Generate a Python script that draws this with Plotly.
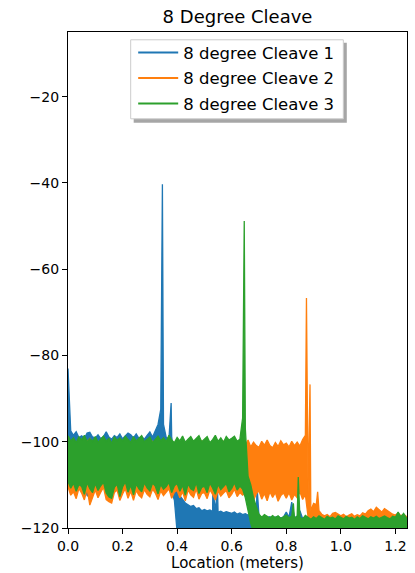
import plotly.graph_objects as go

# Sampling grid (meters)
location = [round(0.01 * i, 2) for i in range(125)]

# ---- 8 degree Cleave 1 (upper / lower envelope of the noisy trace) ----
c1_hi = [
    -83, -97.5, -98.5, -97.7, -99, -98.6, -99.2, -98, -97.8, -98.9,
    -99.1, -98.4, -99.3, -98.8, -97.7, -98.9, -99.4, -98.6, -99, -98.2,
    -99.3, -98.7, -98, -98.4, -99.1, -98.2, -99.2, -98.8, -99.4, -98.5,
    -97.7, -98.9, -97.5, -96, -92.5, -96, -99, -99.3, -98.8, -104,
    -109, -112.5, -113.5, -114.2, -114.6, -115, -114.8, -115.5, -115.3, -116,
    -115.7, -116, -115.8, -116.2, -116, -116.3, -116.1, -116.5, -116.2, -116.4,
    -116.6, -116.3, -116.8, -116.5, -116.9, -116.7, -117, -116.8, -117.2, -117,
    -117.3, -117.5, -117.2, -117.6, -117.4, -117.8, -117.5, -117.3, -117.7, -117.4,
    -116.3, -117.5, -114, -117.6, -117.3, -116, -117.8, -117.4, -117.6, -117.9,
    -117.5, -117.8, -118, -117.6, -117.9, -118.1, -117.7, -118, -118.2, -117.8,
    -118, -118.2, -117.9, -118.3, -118, -118.1, -118.4, -118, -118.2, -118.3,
    -118.1, -118.4, -118.2, -118, -118.3, -118.5, -118.1, -118.3, -118.4, -118.2,
    -118.3, -118.1, -118.4, -118.2, -118.3,
]
c1_lo = [
    -104, -108, -109.5, -110.2, -109, -110.5, -109.8, -112.5, -112.8, -110,
    -109.5, -110.8, -109.7, -110.3, -110.9, -109.6, -110.4, -111, -109.8, -110.6,
    -110.2, -109.6, -110.8, -110.1, -109.5, -110.7, -110, -109.7, -110.5, -110.2,
    -109.8, -110.6, -110, -109.4, -110.3, -109.6, -110.1, -110.7, -111.5, -113.6,
    -121, -121, -121, -121, -121, -121, -121, -121, -121, -121,
    -121, -121, -121, -121, -121, -121, -121, -121, -121, -121,
    -121, -121, -121, -121, -121, -121, -121, -121, -121, -121,
    -121, -121, -121, -121, -121, -121, -121, -121, -121, -121,
    -121, -121, -121, -121, -121, -121, -121, -121, -121, -121,
    -121, -121, -121, -121, -121, -121, -121, -121, -121, -121,
    -121, -121, -121, -121, -121, -121, -121, -121, -121, -121,
    -121, -121, -121, -121, -121, -121, -121, -121, -121, -121,
    -121, -121, -121, -121, -121,
]
c1_peak_loc = [0.346, 0.378, 0.531, 0.548, 0.693]
c1_peak_val = [-40.3, -91.0, -110.5, -110.8, -110.5]

# ---- 8 degree Cleave 2 ----
c2_hi = [
    -100.5, -100, -99.8, -100.6, -100.2, -99.9, -100.7, -100.1, -99.3, -100.4,
    -100.1, -100.6, -99.9, -100.3, -100.8, -100, -100.5, -99.7, -100.2, -100.6,
    -100.3, -99.8, -100.5, -100.1, -100.7, -99.9, -100.4, -100.2, -100.8, -100,
    -100.5, -99.9, -100.3, -100.7, -100.1, -100.6, -99.8, -100.4, -100.2, -100.7,
    -100, -100.5, -100.2, -100.8, -99.9, -100.4, -100.1, -100.6, -100.3, -99.8,
    -100.4, -100.1, -100.7, -100, -100.5, -100.2, -100.8, -99.9, -100.3, -100.6,
    -100.3, -99.9, -100.6, -100.2, -100, -100.8, -99.6, -101.2, -100.1, -100.9,
    -101.3, -99.9, -100.8, -99.6, -100.9, -101.4, -100.2, -101.1, -99.8, -100.7,
    -100.3, -101.2, -99.9, -100.9, -100.1, -101, -99.5, -98.5, -112, -116,
    -114.3, -114.6, -116, -116.8, -117.2, -116.9, -117.4, -116.6, -116.4, -116.9,
    -117.2, -116.8, -117.4, -117, -116.7, -117.3, -116.9, -117.2, -116.5, -116.8,
    -116, -115.6, -116.2, -115.2, -115.8, -116.3, -115.5, -116, -116.4, -116.8,
    -117, -116.5, -117.2, -116.8, -117.3,
]
c2_lo = [
    -110.5, -112.4, -111.6, -113.2, -110.8, -111.9, -113.5, -110.9, -114.7, -112.8,
    -111.2, -113, -111.7, -110.6, -113.4, -113.9, -114.2, -111.8, -111.2, -113.6,
    -112.1, -110.9, -113.1, -111.5, -113.6, -111.3, -112.4, -113, -111.1, -112.2,
    -112.8, -111, -111.9, -113.4, -111.4, -112.5, -111.8, -110.9, -113.1, -111.7,
    -111.3, -113, -111.6, -113.7, -111.2, -112.3, -112.9, -111, -113.3, -112,
    -111.8, -113.2, -111.1, -112.2, -113.5, -111.4, -112.6, -111.9, -111.3, -113,
    -112.2, -111, -112.7, -111.8, -112.4, -111.9, -113.2, -111.5, -113.6, -112.1,
    -111.4, -113.3, -112, -113.7, -111.6, -112.9, -111.8, -113.8, -112.5, -111.9,
    -113.1, -111.8, -113.5, -112.2, -113, -111.6, -113.4, -112.3, -117.5, -118.5,
    -118, -118.3, -119, -119.5, -120, -120.5, -121, -121, -121, -121,
    -121, -121, -121, -121, -121, -121, -121, -121, -121, -121,
    -121, -121, -121, -121, -121, -121, -121, -121, -121, -121,
    -121, -121, -121, -121, -121,
]
c2_peak_loc = [0.874, 0.887, 0.915]
c2_peak_val = [-66.7, -86.7, -111.6]

# ---- 8 degree Cleave 3 ----
c3_hi = [
    -98.6, -99.8, -99.1, -100.2, -98.9, -99.6, -98.5, -100, -99.3, -99.9,
    -98.8, -100.1, -99.4, -98.7, -99.9, -99.2, -100.3, -98.9, -99.7, -99.1,
    -99.8, -98.7, -99.5, -100.1, -98.8, -99.9, -99.2, -98.6, -100, -99.4,
    -98.9, -100.2, -99.3, -98.7, -99.8, -99.1, -100, -98.5, -99.6, -100.2,
    -99, -99.8, -98.7, -100.1, -99.4, -98.8, -99.9, -99.2, -98.6, -100,
    -99.3, -98.8, -100.2, -99.5, -98.5, -99.9, -99.1, -100.1, -98.8, -99.6,
    -99.2, -98.7, -99.9, -99.4, -94.5, -97, -108, -110, -113, -115,
    -116.8, -117.5, -116.9, -117.3, -117.7, -117.1, -117.6, -117.2, -117.8, -117.4,
    -117, -117.6, -117.3, -117.8, -117.2, -117.5, -117.9, -117.1, -117.6, -118,
    -117.4, -117.8, -117.2, -117.6, -118, -117.3, -117.7, -117.5, -117.9, -117.2,
    -117.6, -117.9, -117.3, -117.7, -117.5, -118, -117.4, -117.8, -117.2, -117.6,
    -117.9, -117.4, -117.7, -117.3, -117.8, -117.5, -117.2, -117.6, -117.9, -117.3,
    -117.5, -116.3, -117.4, -116.6, -117.6,
]
c3_lo = [
    -109.2, -110.8, -109.6, -111.5, -109.9, -110.4, -112.2, -109.5, -110.9, -111.8,
    -109.7, -111.3, -110.2, -109.4, -111.9, -112.8, -113.1, -110.6, -109.8, -112.7,
    -110.5, -109.3, -111.7, -110.1, -112.3, -109.8, -110.9, -111.6, -109.5, -110.7,
    -111.4, -109.6, -110.3, -112.1, -109.9, -111, -110.4, -109.4, -111.8, -110.2,
    -109.7, -111.5, -110.1, -112.4, -109.8, -110.9, -111.3, -109.5, -112, -110.6,
    -110.3, -111.8, -109.6, -110.7, -112.2, -109.9, -111.1, -110.4, -109.7, -111.6,
    -110.8, -109.5, -111.2, -110.3, -111, -113, -116, -119, -121, -121,
    -121, -121, -121, -121, -121, -121, -121, -121, -121, -121,
    -121, -121, -121, -121, -121, -121, -121, -121, -121, -121,
    -121, -121, -121, -121, -121, -121, -121, -121, -121, -121,
    -121, -121, -121, -121, -121, -121, -121, -121, -121, -121,
    -121, -121, -121, -121, -121, -121, -121, -121, -121, -121,
    -121, -121, -121, -121, -121,
]
c3_peak_loc = [0.646, 0.826, 0.844]
c3_peak_val = [-48.8, -114.3, -108.2]

names = ["8 degree Cleave 1", "8 degree Cleave 2", "8 degree Cleave 3"]
colors = ["#1f77b4", "#ff7f0e", "#2ca02c"]

x_ticks = [0.0, 0.2, 0.4, 0.6, 0.8, 1.0, 1.2]
x_tick_labels = ["0.0", "0.2", "0.4", "0.6", "0.8", "1.0", "1.2"]
y_ticks = [-120, -100, -80, -60, -40, -20]
y_tick_labels = ["\u2212120", "\u2212100", "\u221280", "\u221260", "\u221240", "\u221220"]

for arr in (c1_hi, c1_lo, c2_hi, c2_lo, c3_hi, c3_lo):
    assert len(arr) == len(location), len(arr)


def band_outline(hi, lo, pk_loc, pk_val):
    """Closed outline of the noisy trace: upper envelope (with the peaks),
    then the lower envelope back to the start."""
    top = sorted(list(zip(location, hi)) + list(zip(pk_loc, pk_val)),
                 key=lambda p: p[0])
    bottom = list(zip(location, lo))[::-1]
    pts = top + bottom
    return [p[0] for p in pts], [p[1] for p in pts]


series = [
    (c1_hi, c1_lo, c1_peak_loc, c1_peak_val),
    (c2_hi, c2_lo, c2_peak_loc, c2_peak_val),
    (c3_hi, c3_lo, c3_peak_loc, c3_peak_val),
]

fig = go.Figure()
for (hi, lo, pl, pv), name, col in zip(series, names, colors):
    xs, ys = band_outline(hi, lo, pl, pv)
    fig.add_trace(go.Scatter(
        x=xs, y=ys, mode="lines", name=name, legendgroup=name,
        fill="toself", fillcolor=col, showlegend=False,
        line=dict(color=col, width=1.3),
    ))
    # legend entry (line sample)
    fig.add_trace(go.Scatter(
        x=[None], y=[None], mode="lines", name=name, legendgroup=name,
        line=dict(color=col, width=2), showlegend=True,
    ))

# plot area in pixels: left 67.7, right 407.3, top 31.7, bottom 527.7
L, R, T, B = 67.7, 407.3, 31.7, 527.7


def px_x(p):
    return (p - L) / (R - L)


def px_y(p):
    return (B - p) / (B - T)


# legend frame + shadow (matplotlib style)
fig.add_shape(type="rect", xref="paper", yref="paper", layer="above",
              x0=px_x(133.5), x1=px_x(347), y0=px_y(122.5), y1=px_y(42.5),
              fillcolor="rgba(0,0,0,0.35)", line=dict(width=0))
fig.add_shape(type="rect", xref="paper", yref="paper", layer="above",
              x0=px_x(130.5), x1=px_x(343.5), y0=px_y(118.5), y1=px_y(39.5),
              fillcolor="white", line=dict(color="#cccccc", width=1))

font_family = "DejaVu Sans"
fig.update_layout(
    width=415, height=573,
    margin=dict(l=L, r=415 - R, t=T, b=573 - B, autoexpand=False),
    paper_bgcolor="white", plot_bgcolor="white",
    font=dict(family=font_family, color="black", size=14),
    title=dict(text="8 Degree Cleave", x=(L + R) / 2 / 415, xanchor="center",
               y=1 - 17 / 573, yanchor="middle", yref="container",
               font=dict(size=18, family=font_family, color="black")),
    showlegend=True,
    legend=dict(x=px_x(133), y=px_y(35), xanchor="left", yanchor="top",
                bgcolor="rgba(0,0,0,0)", borderwidth=0,
                font=dict(size=16.5, family=font_family, color="black"),
                tracegroupgap=1, itemwidth=40),
    xaxis=dict(range=[0, 1.2425], tickvals=x_ticks, ticktext=x_tick_labels,
               ticks="outside", ticklen=5, tickwidth=1.1, tickcolor="black",
               showline=True, linecolor="black", linewidth=1.1, mirror=True,
               showgrid=False, zeroline=False,
               tickfont=dict(size=14, family=font_family),
               title=dict(text="Location (meters)", standoff=4,
                          font=dict(size=15, family=font_family))),
    yaxis=dict(range=[-120, -5], tickvals=y_ticks, ticktext=y_tick_labels,
               ticks="outside", ticklen=5, tickwidth=1.1, tickcolor="black",
               showline=True, linecolor="black", linewidth=1.1, mirror=True,
               showgrid=False, zeroline=False,
               tickfont=dict(size=14, family=font_family)),
)

fig.write_html("out.html",
               config={"displayModeBar": False},
               post_script="document.body.style.margin='0px';")
